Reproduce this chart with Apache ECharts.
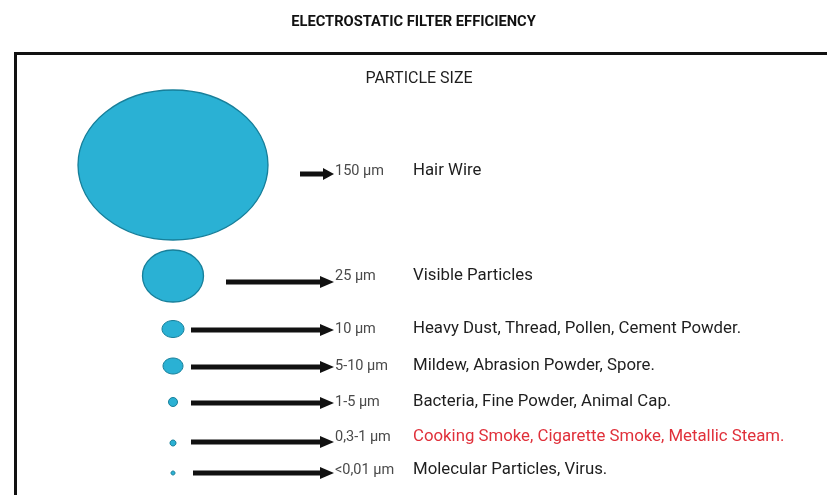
<!DOCTYPE html>
<html>
<head>
<meta charset="utf-8">
<script src="https://cdn.jsdelivr.net/npm/echarts@6/dist/echarts.min.js"></script>
<style>
html,body{margin:0;padding:0;background:#fff;}
#chart{width:827px;height:495px;}
</style>
</head>
<body>
<div id="chart"></div>
<script>
// ---- data ----
const sizeLabels = ['150 µm', '25 µm', '10 µm', '5-10 µm', '1-5 µm', '0,3-1 µm', '<0,01 µm'];
const descriptions = [
  'Hair Wire',
  'Visible Particles',
  'Heavy Dust, Thread, Pollen, Cement Powder.',
  'Mildew, Abrasion Powder, Spore.',
  'Bacteria, Fine Powder, Animal Cap.',
  'Cooking Smoke, Cigarette Smoke, Metallic Steam.',
  'Molecular Particles, Virus.'
];
// drawn particle diameters (width / height) in chart units
const particleWidth = [190, 61, 22, 20, 9, 6, 4];
const particleHeight = [150, 52, 17, 16, 9, 6, 4];
const highlightIndex = 5;

// ---- layout (chart units, axes span the canvas) ----
const circleCenterX = 173;
const circleY = [165, 276, 329, 366, 402, 443, 473];
const arrowY = [174, 282, 330, 367, 403, 442, 473];
const arrowStartX = [300, 226, 191, 191, 191, 191, 193];
const arrowEndX = 334;
const labelY = [171, 276, 329, 366, 402, 437, 470];
const sizeLabelX = 335;
const descX = 413;

const chart = echarts.init(document.getElementById('chart'), null, {renderer: 'canvas'});

const seriesData = sizeLabels.map((s, i) => [i]);

function renderItem(params, api) {
  const i = api.value(0);
  const c = api.coord([circleCenterX, circleY[i]]);
  const sz = api.size([particleWidth[i], particleHeight[i]]);
  const a0 = api.coord([arrowStartX[i], arrowY[i]]);
  const a1 = api.coord([arrowEndX, arrowY[i]]);
  const ls = api.coord([sizeLabelX, labelY[i]]);
  const ld = api.coord([descX, labelY[i]]);
  const headLen = i === 0 ? 11 : 14;
  const headHalf = 6;
  return {
    type: 'group',
    children: [
      {
        type: 'ellipse',
        shape: {cx: c[0], cy: c[1], rx: sz[0] / 2, ry: sz[1] / 2},
        style: {fill: '#2ab1d4', stroke: '#177f9a', lineWidth: i < 2 ? 1.3 : 1}
      },
      {
        type: 'line',
        shape: {x1: a0[0], y1: a0[1], x2: a1[0] - headLen + 1, y2: a1[1]},
        style: {stroke: '#111', lineWidth: 5}
      },
      {
        type: 'polygon',
        shape: {points: [[a1[0] - headLen, a1[1] - headHalf], [a1[0], a1[1]], [a1[0] - headLen, a1[1] + headHalf]]},
        style: {fill: '#111'}
      },
      {
        type: 'text',
        x: ls[0], y: ls[1],
        style: {
          text: sizeLabels[i], fill: '#4a4a4a', fontSize: 14.5, fontFamily: 'Roboto',
          fontWeight: 'normal', verticalAlign: 'middle', align: 'left'
        }
      },
      {
        type: 'text',
        x: ld[0], y: ld[1],
        style: {
          text: descriptions[i], fill: i === highlightIndex ? '#e0303a' : '#1e1e1e',
          fontSize: 16.8, fontFamily: 'Roboto', verticalAlign: 'middle', align: 'left'
        }
      }
    ]
  };
}

chart.setOption({
  animation: false,
  backgroundColor: '#fff',
  title: {
    text: 'ELECTROSTATIC FILTER EFFICIENCY',
    left: 'center',
    top: 10,
    textStyle: {fontSize: 14.7, fontWeight: 'bold', color: '#111', fontFamily: 'Roboto'}
  },
  grid: {left: 0, right: 0, top: 0, bottom: 0, containLabel: false},
  xAxis: {type: 'value', min: 0, max: 827, show: false},
  yAxis: {type: 'value', min: 0, max: 495, inverse: true, show: false},
  graphic: [
    {type: 'line', shape: {x1: 14, y1: 53.5, x2: 827, y2: 53.5}, style: {stroke: '#111', lineWidth: 3}},
    {type: 'line', shape: {x1: 15.5, y1: 52, x2: 15.5, y2: 495}, style: {stroke: '#111', lineWidth: 3}},
    {type: 'text', x: 419, y: 79, style: {text: 'PARTICLE SIZE', fill: '#1e1e1e', fontSize: 16, fontFamily: 'Roboto', align: 'center', verticalAlign: 'middle'}}
  ],
  series: [{
    type: 'custom',
    renderItem: renderItem,
    data: seriesData,
    silent: true
  }]
});
</script>
</body>
</html>
